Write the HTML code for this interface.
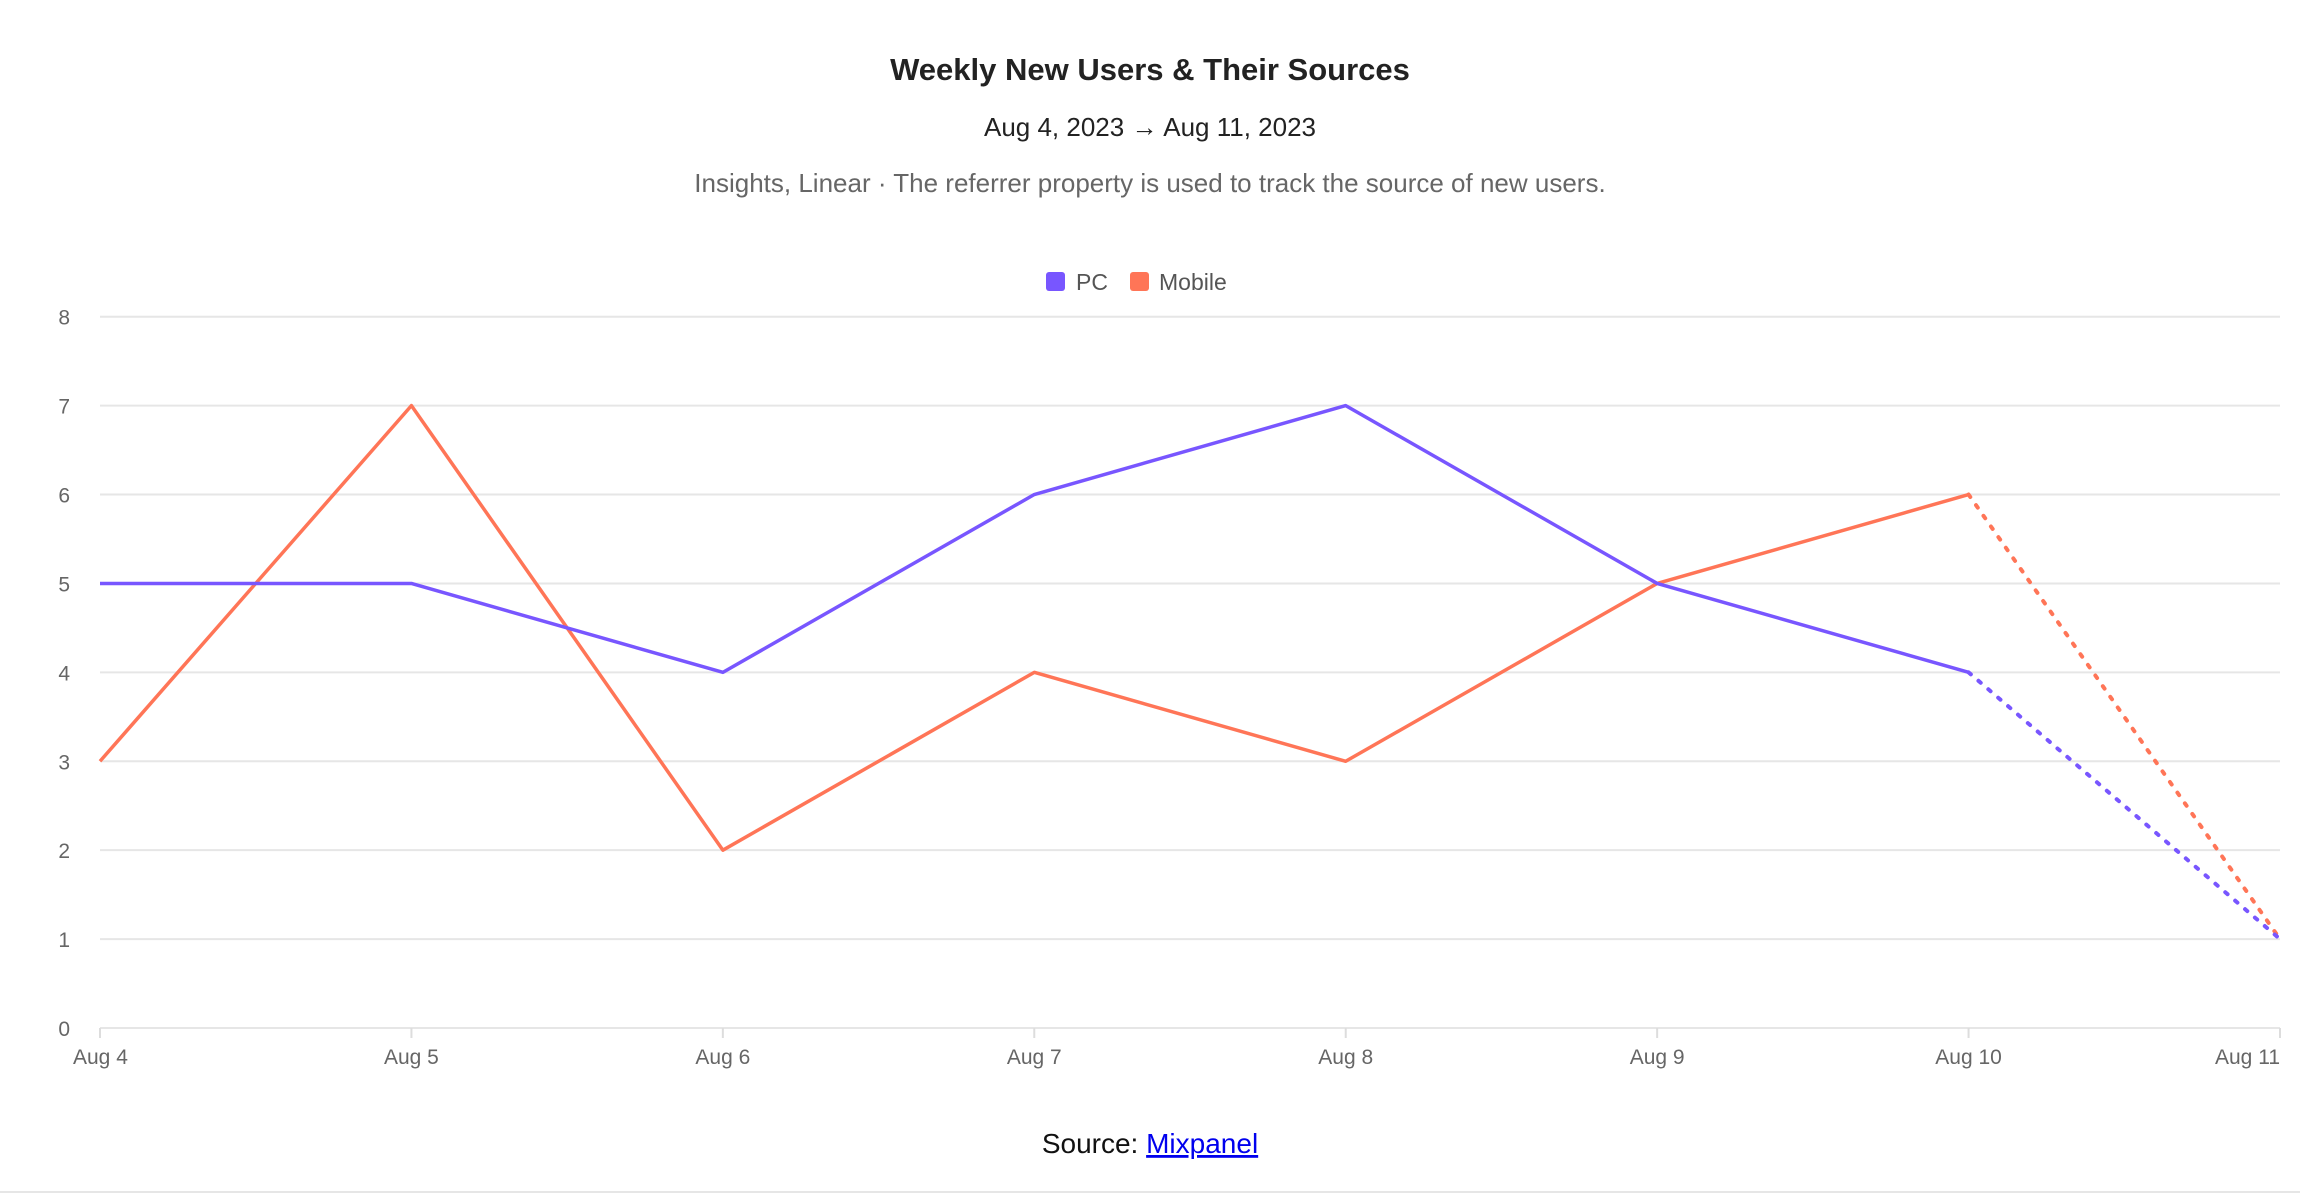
<!DOCTYPE html>
<html><head><meta charset="utf-8"><style>
body{margin:0;background:#fff;width:2300px;height:1194px;overflow:hidden;font-family:"Liberation Sans",sans-serif;}
</style></head><body>
<svg width="2300" height="1194" style="position:absolute;left:0;top:0">
<text x="1150" y="80" text-anchor="middle" font-size="31" font-weight="bold" fill="#222">Weekly New Users &amp; Their Sources</text>
<text x="1150" y="136" text-anchor="middle" font-size="26" fill="#222">Aug 4, 2023 → Aug 11, 2023</text>
<text x="1150" y="192" text-anchor="middle" font-size="26" fill="#666">Insights, Linear · The referrer property is used to track the source of new users.</text>
<g>
<rect x="1046" y="272" width="19" height="19" rx="3" fill="#7856ff"/>
<text x="1076" y="290" font-size="23" fill="#555">PC</text>
<rect x="1130" y="272" width="19" height="19" rx="3" fill="#ff7557"/>
<text x="1159" y="290" font-size="23" fill="#555">Mobile</text>
</g>
<g id="grid"></g><g id="lines"></g>
<line x1="0" y1="1192" x2="2300" y2="1192" stroke="#e6e6e6" stroke-width="2"/>
<text x="1150" y="1153" text-anchor="middle" font-size="28" fill="#111">Source: <tspan fill="#0000ee" text-decoration="underline">Mixpanel</tspan></text>
</svg>
<script>
const categories=["Aug 4","Aug 5","Aug 6","Aug 7","Aug 8","Aug 9","Aug 10","Aug 11"];
const pcValues=[5,5,4,6,7,5,4,1];
const mobileValues=[3,7,2,4,3,5,6,1];
const yTicks=[0,1,2,3,4,5,6,7,8];
const NS="http://www.w3.org/2000/svg";
const L=100,R=2280,Y0=1028,Y8=316.7;
const x=i=>L+(R-L)*i/(categories.length-1);
const y=v=>Y0-(Y0-Y8)*v/8;
const grid=document.getElementById('grid'),lines=document.getElementById('lines');
function mk(t,a,p){const e=document.createElementNS(NS,t);for(const k in a)e.setAttribute(k,a[k]);p.appendChild(e);return e;}
yTicks.forEach(v=>{
 const g=mk('line',{x1:L,x2:R,y1:y(v),y2:y(v),stroke:'#e6e6e6','stroke-width':2},grid);
 
 
 const t=mk('text',{x:70,y:y(v)+8,'text-anchor':'end','font-size':21,fill:'#666'},grid);
 t.textContent=v;
 
 
});
categories.forEach((c,i)=>{
 const tk=mk('line',{x1:x(i),x2:x(i),y1:Y0,y2:Y0+10,stroke:'#ddd','stroke-width':2},grid);
 
 
 const anchor=i==0?'start':(i==categories.length-1?'end':'middle');
 const t=mk('text',{x:i==0?x(i)-27:x(i),y:1064,'text-anchor':anchor,'font-size':21,fill:'#666'},grid);
 t.textContent=c;
 
 
});
function series(vals,color,name){
 const n=vals.length;
 const solid=vals.slice(0,n-1).map((v,i)=>x(i)+','+y(v)).join(' ');
 const p=mk('polyline',{points:solid,fill:'none',stroke:color,'stroke-width':3.5,'stroke-linejoin':'round'},lines);
 
 
 const d=mk('line',{x1:x(n-2),y1:y(vals[n-2]),x2:x(n-1),y2:y(vals[n-1]),stroke:color,'stroke-width':4,'stroke-dasharray':'3 10','stroke-linecap':'round'},lines);
 
 
}
series(mobileValues,'#ff7557','mobile');
series(pcValues,'#7856ff','pc');
</script>
</body></html>
